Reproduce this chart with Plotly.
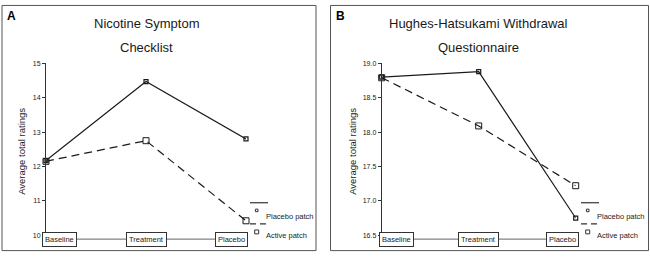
import plotly.graph_objects as go

categories = ["Baseline", "Treatment", "Placebo"]
nsc_placebo_patch = [12.17, 14.47, 12.80]
nsc_active_patch = [12.15, 12.75, 10.42]
hh_placebo_patch = [18.80, 18.88, 16.75]
hh_active_patch = [18.79, 18.09, 17.22]
titles = [["Nicotine Symptom", "Checklist"], ["Hughes-Hatsukami Withdrawal", "Questionnaire"]]
panel_letters = ["A", "B"]
legend_names = ["Placebo patch", "Active patch"]
y_title = "Average total ratings"

W, H = 650, 257
FONT = "Arial, Liberation Sans, sans-serif"
INK = "#1a1a1a"


def px(x):
    return x / W


def py(y):
    return 1 - y / H


fig = go.Figure()

# panel geometry (pixels)
panels = [
    dict(x0=46, x1=246, ytop=61, ybot=237.7, yr=[10, 15], dtick=1, fmt="d",
         frame=(2, 1.5, 316, 253.5), letter=(5, 12), ytitle_x=22,
         shifts=(-4, 0, 2), leg_x=250),
    dict(x0=381.7, x1=575.7, ytop=61, ybot=237.7, yr=[16.5, 19.0], dtick=0.5, fmt=".1f",
         frame=(330.5, 1.5, 648.5, 253.5), letter=(334, 12), ytitle_x=353,
         shifts=(-3, 0, 3), leg_x=581),
]
data = [(nsc_placebo_patch, nsc_active_patch), (hh_placebo_patch, hh_active_patch)]

shapes = []
annotations = []

for i, p in enumerate(panels):
    xa = "x" if i == 0 else "x2"
    ya = "y" if i == 0 else "y2"
    placebo, active = data[i]
    fig.add_trace(go.Scatter(
        x=categories, y=active, xaxis=xa, yaxis=ya, mode="lines+markers",
        line=dict(color=INK, width=1.2, dash="8px,5px"),
        marker=dict(symbol="square-open", size=6, color=INK, line=dict(width=1)),
        cliponaxis=False, showlegend=False, name=legend_names[1]))
    fig.add_trace(go.Scatter(
        x=categories, y=placebo, xaxis=xa, yaxis=ya, mode="lines+markers",
        line=dict(color=INK, width=1.2),
        marker=dict(symbol="square-open", size=4, color=INK, line=dict(width=1.2)),
        cliponaxis=False, showlegend=False, name=legend_names[0]))

    xkey = "xaxis" if i == 0 else "xaxis2"
    ykey = "yaxis" if i == 0 else "yaxis2"
    fig.update_layout(**{
        xkey: dict(domain=[px(p["x0"]), px(p["x1"])], range=[0, 2], type="category",
                   visible=False, anchor=ya),
        ykey: dict(domain=[py(p["ybot"]), py(p["ytop"])], range=p["yr"], dtick=p["dtick"],
                   tickformat=p["fmt"], showline=True, linecolor="#333", linewidth=1,
                   ticks="outside", ticklen=3, tickcolor="#333", showgrid=False,
                   zeroline=False, tickfont=dict(size=7, family=FONT, color=INK),
                   anchor=xa),
    })

    # frame
    fx0, fy0, fx1, fy1 = p["frame"]
    shapes.append(dict(type="rect", xref="paper", yref="paper", x0=px(fx0), x1=px(fx1),
                       y0=py(fy1), y1=py(fy0), line=dict(color="#555", width=1)))
    # category connector line
    shapes.append(dict(type="line", xref=xa, yref="paper", x0=categories[0], x1=categories[2],
                       y0=py(241.7), y1=py(241.7), line=dict(color="#666", width=1),
                       layer="below"))
    # category boxes
    anchors = ["left", "center", "right"]
    for c, anc, sh in zip(categories, anchors, p["shifts"]):
        annotations.append(dict(x=c, xref=xa, y=py(242), yref="paper", text=c,
                                showarrow=False, xanchor=anc, yanchor="middle", xshift=sh,
                                font=dict(size=7.5, family=FONT, color=INK),
                                bgcolor="white", bordercolor="#333", borderwidth=1,
                                borderpad=2))
    # titles
    cx = (p["x0"] + p["x1"]) / 2
    for t, yy in zip(titles[i], [20, 45]):
        annotations.append(dict(x=px(cx), y=py(yy), xref="paper", yref="paper", text=t,
                                showarrow=False, xanchor="center", yanchor="middle",
                                font=dict(size=13, family=FONT, color=INK)))
    # panel letter
    lx, ly = p["letter"]
    annotations.append(dict(x=px(lx), y=py(ly), xref="paper", yref="paper",
                            text="<b>%s</b>" % panel_letters[i], showarrow=False,
                            xanchor="left", yanchor="middle",
                            font=dict(size=12, family=FONT, color="black")))
    # y title
    annotations.append(dict(x=px(p["ytitle_x"]), y=py(152), xref="paper", yref="paper",
                            text=y_title, textangle=-90, showarrow=False,
                            xanchor="center", yanchor="middle",
                            font=dict(size=9.5, family=FONT, color=INK)))
    # legend
    lx0 = p["leg_x"]
    shapes.append(dict(type="line", xref="paper", yref="paper", x0=px(lx0), x1=px(lx0 + 18),
                       y0=py(204.3), y1=py(204.3), line=dict(color="#333", width=1.2)))
    shapes.append(dict(type="line", xref="paper", yref="paper", x0=px(lx0), x1=px(lx0 + 18),
                       y0=py(226), y1=py(226), line=dict(color="#333", width=1.2,
                                                          dash="6px,4px")))
    mx = lx0 + 6.7
    shapes.append(dict(type="rect", xref="paper", yref="paper", x0=px(mx - 1.3), x1=px(mx + 1.3),
                       y0=py(213.5), y1=py(210.9), line=dict(color="#333", width=1)))
    shapes.append(dict(type="rect", xref="paper", yref="paper", x0=px(mx - 2), x1=px(mx + 2),
                       y0=py(236.3), y1=py(232.3), line=dict(color="#333", width=1)))
    for name, yy in zip(legend_names, [218, 238]):
        annotations.append(dict(x=px(lx0 + 14), y=py(yy), xref="paper", yref="paper",
                                text=name, showarrow=False, xanchor="left",
                                yanchor="middle",
                                font=dict(size=7.5, family=FONT, color=INK)))

fig.update_layout(width=W, height=H, margin=dict(l=0, r=0, t=0, b=0),
                  paper_bgcolor="white", plot_bgcolor="white",
                  shapes=shapes, annotations=annotations, showlegend=False,
                  font=dict(family=FONT))
fig.write_html("out.html", config={"displayModeBar": False},
               post_script="document.body.style.margin='0';document.body.style.overflow='hidden';")
